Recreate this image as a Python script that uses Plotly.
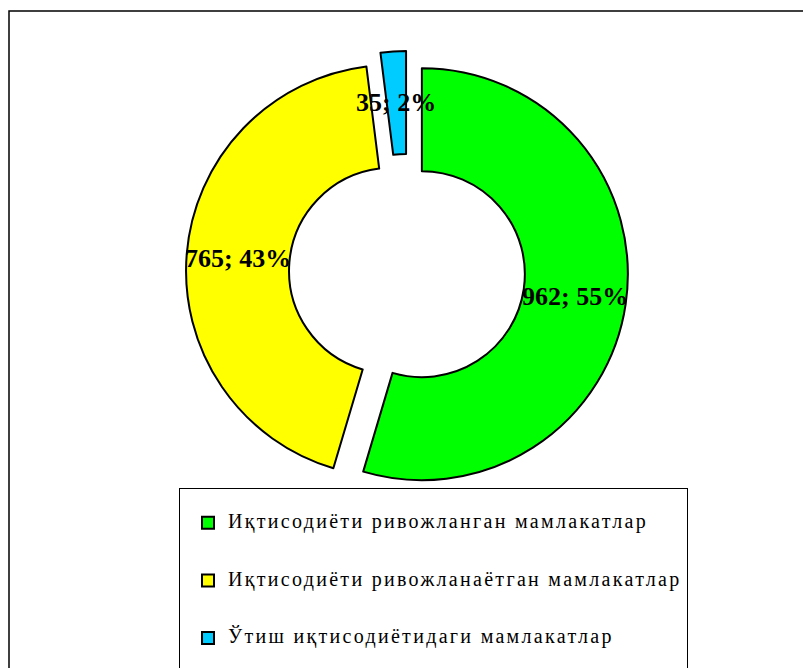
import math
import plotly.graph_objects as go

categories = [
    "Иқтисодиёти ривожланган мамлакатлар",
    "Иқтисодиёти ривожланаётган мамлакатлар",
    "Ўтиш иқтисодиётидаги мамлакатлар",
]
values = [962, 765, 35]
colors = ["#00FF00", "#FFFF00", "#00CCFF"]

# the page body adds an 8px margin, so the figure is 8px smaller than the window
W, H = 803, 660
SERIF = "Liberation Serif, Times New Roman, serif"

HOLE = 0.5
PULL = 0.073
DOM_X = [0.22167, 0.77210]
DOM_Y = [0.26515, 0.93485]

# legend labels: blank line above and below reproduce the wide item spacing
legend_labels = [
    "\u00a0<br><span style='font-size:20px;letter-spacing:2.3px'>" + c + "</span><br>\u00a0"
    for c in categories
]

fig = go.Figure(
    go.Pie(
        labels=legend_labels,
        values=values,
        sort=False,
        direction="clockwise",
        rotation=0,
        hole=HOLE,
        pull=PULL,
        marker=dict(colors=colors, line=dict(color="black", width=2)),
        textinfo="none",
        domain=dict(x=DOM_X, y=DOM_Y),
        hoverinfo="value+percent",
    )
)

# data labels "value; percent" placed mid-ring of each (pulled) slice
total = sum(values)
R = min((DOM_X[1] - DOM_X[0]) * W, (DOM_Y[1] - DOM_Y[0]) * H) / 2 / (1 + PULL)
cxp = (DOM_X[0] + DOM_X[1]) / 2
cyp = (DOM_Y[0] + DOM_Y[1]) / 2
dist = R * (PULL + (1 + HOLE) / 2)
annotations = []
cum = 0
for v in values:
    mid = 2 * math.pi * (cum + v / 2) / total
    cum += v
    annotations.append(
        dict(
            x=cxp + dist * math.sin(mid) / W,
            y=cyp + dist * math.cos(mid) / H,
            xref="paper",
            yref="paper",
            xanchor="center",
            yanchor="middle",
            showarrow=False,
            text=f"{v}; {round(100 * v / total)}%",
            font=dict(family=SERIF, size=26, color="black", weight="bold"),
        )
    )

fig.update_layout(
    width=W,
    height=H,
    margin=dict(l=0, r=0, t=0, b=0, autoexpand=False),
    paper_bgcolor="white",
    plot_bgcolor="white",
    showlegend=True,
    annotations=annotations,
    legend=dict(
        x=171 / W,
        y=1 - 480 / H,
        xanchor="left",
        yanchor="top",
        bgcolor="white",
        bordercolor="black",
        borderwidth=1,
        indentation=8,
        font=dict(family=SERIF, size=14, color="black"),
        valign="middle",
    ),
    shapes=[
        dict(
            type="rect",
            xref="paper",
            yref="paper",
            x0=1 / W,
            x1=1.02,
            y0=-0.02,
            y1=1 - 3 / H,
            line=dict(color="black", width=1.5),
            layer="below",
        )
    ],
)

fig.write_html("out.html")
